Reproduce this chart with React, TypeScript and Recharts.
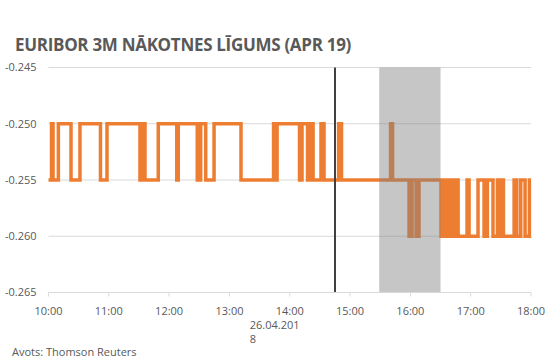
import {
  LineChart,
  Line,
  XAxis,
  YAxis,
  CartesianGrid,
  ReferenceLine,
  ReferenceArea,
} from "recharts";

// minutes after 10:00 where the price changed, and the new price
const changeMinutes = [
  0, 3, 4.5, 9.8, 22.4, 31.3, 51.7, 58.2, 91, 92.7, 94, 95, 96, 109.2, 127.6,
  129.1, 148, 151.4, 156.4, 164.7, 191.5, 223.9, 225.9, 227.4, 249.7, 252.2,
  257.7, 260.2, 263.2, 271.1, 274.1, 288.6, 291.5, 340.3, 342.3, 358.7, 361.7,
  365.7, 368.6, 390.5, 392.5, 394.5, 396.5, 398.5, 401.5, 403.5, 405.5, 407.5,
  416.4, 418.4, 427.3, 433.3, 436.6, 442.2, 446.6, 448.3, 449.8, 452.6, 463.2,
  465.9, 469.8, 474.1, 478.4, 480,
];
const changePrices = [
  -0.255, -0.25, -0.255, -0.25, -0.255, -0.25, -0.255, -0.25, -0.255, -0.25,
  -0.255, -0.25, -0.255, -0.25, -0.255, -0.25, -0.255, -0.25, -0.255, -0.25,
  -0.255, -0.25, -0.255, -0.25, -0.255, -0.25, -0.255, -0.25, -0.255, -0.25,
  -0.255, -0.25, -0.255, -0.25, -0.255, -0.26, -0.255, -0.26, -0.255, -0.26,
  -0.255, -0.26, -0.255, -0.26, -0.255, -0.26, -0.255, -0.26, -0.255, -0.26,
  -0.255, -0.26, -0.255, -0.26, -0.255, -0.26, -0.255, -0.26, -0.255, -0.26,
  -0.255, -0.26, -0.255, -0.255,
];

const hourTicks = [0, 60, 120, 180, 240, 300, 360, 420, 480];
const hourLabels = ["10:00", "11:00", "12:00", "13:00", "14:00", "15:00", "16:00", "17:00", "18:00"];
const priceTicks = [-0.265, -0.26, -0.255, -0.25, -0.245];

const dateTick = 240; // 14:00 carries the date under it
const dateLines = ["26.04.201", "8"];
const announceMinute = 285; // 14:45
const shadeFrom = 329;
const shadeTo = 390;

const data = changeMinutes.map((t, i) => ({ t, price: changePrices[i] }));

const FONT = "'Open Sans', sans-serif";
const GREY_TEXT = "#595959";

function HourTick({ x, y, payload }: any) {
  const label = hourLabels[hourTicks.indexOf(payload.value)] ?? "";
  return (
    <g>
      <text x={x} y={y} dy="0.71em" textAnchor="middle" fontSize={11} fill={GREY_TEXT} fontFamily={FONT}>
        {label}
      </text>
      {payload.value === dateTick &&
        dateLines.map((line, i) => (
          <text
            key={line}
            x={x - 40}
            y={y + 14 + i * 14}
            dy="0.71em"
            textAnchor="start"
            fontSize={11}
            fill={GREY_TEXT}
            fontFamily={FONT}
          >
            {line}
          </text>
        ))}
    </g>
  );
}

export default function App() {
  return (
    <div style={{ position: "absolute", left: 0, top: 0, width: 554, height: 360, background: "#fff" }}>
      <div
        style={{
          position: "absolute",
          left: 15,
          top: 33,
          fontFamily: FONT,
          fontWeight: 700,
          fontSize: 17,
          letterSpacing: -0.3,
          color: GREY_TEXT,
          whiteSpace: "nowrap",
          lineHeight: "24px",
        }}
      >
        EURIBOR 3M NĀKOTNES LĪGUMS (APR 19)
      </div>
      <LineChart
        width={554}
        height={360}
        data={data}
        margin={{ top: 67.5, right: 23, bottom: 17.5, left: 0 }}
      >
        <CartesianGrid horizontal vertical={false} stroke="#D9D9D9" />
        <XAxis
          dataKey="t"
          type="number"
          domain={[0, 480]}
          ticks={hourTicks}
          interval={0}
          height={50}
          axisLine={{ stroke: "#D9D9D9" }}
          tickLine={{ stroke: "#D9D9D9" }}
          tickSize={4}
          tickMargin={11}
          tick={<HourTick />}
        />
        <YAxis
          type="number"
          domain={[-0.265, -0.245]}
          ticks={priceTicks}
          width={48.5}
          axisLine={false}
          tickLine={false}
          tickSize={6}
          tickMargin={6}
          tickFormatter={(v: number) => v.toFixed(3)}
          tick={{ fontSize: 11, fill: GREY_TEXT, fontFamily: FONT }}
        />
        <Line
          dataKey="price"
          type="stepAfter"
          stroke="#ED7D31"
          strokeWidth={3.5}
          dot={false}
          isAnimationActive={false}
        />
        <ReferenceArea
          x1={shadeFrom}
          x2={shadeTo}
          fill="#808080"
          fillOpacity={0.45}
          stroke="none"
          zIndex={450}
        />
        <ReferenceLine x={announceMinute} stroke="#404040" strokeWidth={2} zIndex={460} />
      </LineChart>
      <div
        style={{
          position: "absolute",
          left: 12,
          top: 344,
          fontFamily: FONT,
          fontSize: 11,
          color: GREY_TEXT,
          whiteSpace: "nowrap",
          lineHeight: "16px",
        }}
      >
        Avots: Thomson Reuters
      </div>
    </div>
  );
}
